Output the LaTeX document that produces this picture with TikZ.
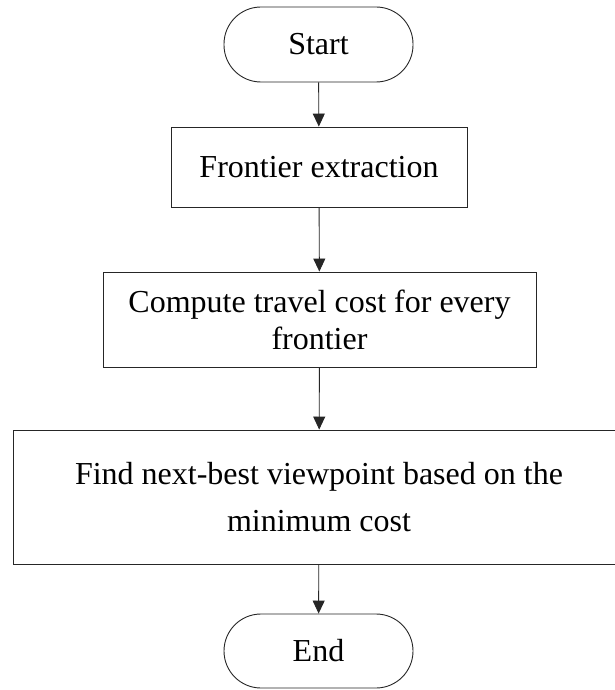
\documentclass[tikz,border=0pt]{standalone}
\usepackage{fontspec}
\setmainfont{Liberation Serif}
\usetikzlibrary{arrows.meta}
\begin{document}
\begin{tikzpicture}[x=1pt,y=-1pt,
  box/.style={draw=black!85, line width=0.9pt, fill=white, inner sep=0pt,
    align=center, font=\fontsize{32}{37}\selectfont},
  terminal/.style={box, rounded corners=37pt},
  flow/.style={draw=black!85, line width=0.9pt,
    -{Triangle[length=13pt,width=12pt]}}]
  \useasboundingbox (0,0) rectangle (614,690);
  \fill[white] (0,0) rectangle (614,690);

  \node[terminal, minimum width=189pt, minimum height=75pt] (start) at (318.5,44.5) {Start};
  \node[box, minimum width=296pt, minimum height=80pt] (extract) at (319,167) {Frontier extraction};
  \node[box, minimum width=433pt, minimum height=95pt] (cost) at (319.5,319.5)
    {Compute travel cost for every\\frontier};
  \node[box, minimum width=612pt, minimum height=134pt,
    font=\fontsize{32}{47}\selectfont] (nbv) at (319,497)
    {Find next-best viewpoint based on the\\minimum cost};
  \node[terminal, minimum width=189pt, minimum height=74pt] (end) at (318.5,651) {End};

  \draw[flow] (start) -- (extract);
  \draw[flow] (extract) -- (cost);
  \draw[flow] (cost) -- (nbv);
  \draw[flow] (nbv) -- (end);
\end{tikzpicture}
\end{document}
